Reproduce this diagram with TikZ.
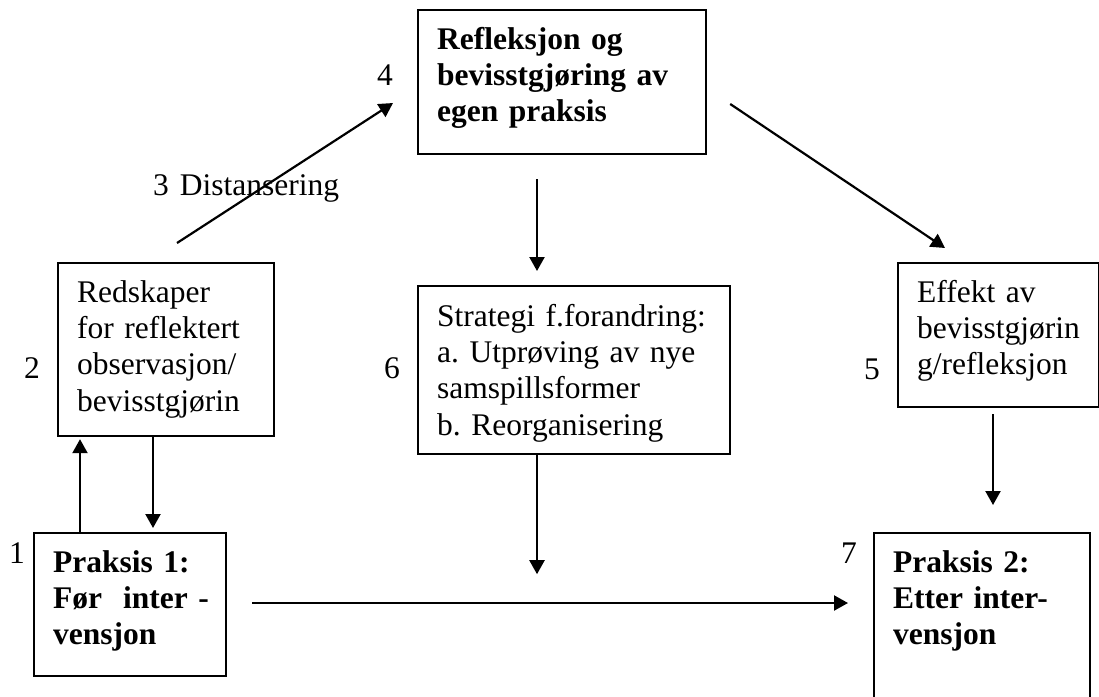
\documentclass[tikz,border=0pt]{standalone}
\usepackage{fontspec}
\setmainfont{Liberation Serif}
\frenchspacing
\usetikzlibrary{arrows.meta,calc}
\tikzset{
	box/.style={draw, line width=2.2pt, inner sep=0pt, anchor=north west},
	txt/.style={font=\fontsize{31.5}{36.4}\selectfont, align=left, inner sep=0pt, anchor=base west, text width=#1},
	txt/.default=200pt,
	txtb/.style={txt=#1, font=\fontsize{31.5}{36.4}\selectfont\bfseries},
	txtb/.default=200pt,
	arr/.style={line width=2.2pt, -{Triangle[length=14pt,width=15pt]}}
}
\begin{document}
\begin{tikzpicture}[x=1pt,y=-1pt]
\clip (0,0) rectangle (1099,696);
\node[box, minimum width=288pt, minimum height=144pt] (refleksjon) at (417,9) {};
\node[box, minimum width=216pt, minimum height=173pt] (redskaper) at (57,262) {};
\node[box, minimum width=312pt, minimum height=168pt] (strategi) at (417,285) {};
\node[box, minimum width=201pt, minimum height=144pt] (effekt) at (897,262) {};
\node[box, minimum width=192pt, minimum height=143pt] (praksis1) at (33,532) {};
\node[box, minimum width=216pt, minimum height=180pt] (praksis2) at (873,532) {};
\node[txtb=270pt] (refleksjon-t) at ($(refleksjon.north west)+(20,40)$) {Refleksjon og\\bevisstgjøring av\\egen praksis};
\node[txt] (redskaper-t) at ($(redskaper.north west)+(20,40)$) {Redskaper\\for reflektert\\observasjon/\\bevisstgjørin};
\node[txt=290pt] (strategi-t) at ($(strategi.north west)+(20,41)$) {Strategi f.forandring:\\a. Utprøving av nye\\samspillsformer\\b. Reorganisering};
\node[txt=180pt] (effekt-t) at ($(effekt.north west)+(20,40)$) {Effekt av\\bevisstgjørin\\g/refleksjon};
\node[txtb=170pt] (praksis1-t) at ($(praksis1.north west)+(20,40)$) {Praksis 1:\\Før~ inter -\\vensjon};
\node[txtb=190pt] (praksis2-t) at ($(praksis2.north west)+(20,40)$) {Praksis 2:\\Etter inter-\\vensjon};
\foreach \n/\x/\y in {1/17/563, 2/32/378, 4/385/85, 5/872/379, 6/392/378, 7/849/563}{
	\node[font=\fontsize{31.5}{36.4}\selectfont, inner sep=0pt, anchor=base] (num\n) at (\x,\y) {\n};
}
\node[font=\fontsize{31.5}{36.4}\selectfont, inner sep=0pt, anchor=base west] (distansering) at (153,195) {3\hspace{11pt}Distansering};
\draw[arr] ($(redskaper.north west)+(120,-19)$) -- ($(refleksjon.north west)+(-24,94)$);
\draw[arr] ($(refleksjon.north east)+(23,95)$) -- ($(effekt.north west)+(48,-14)$);
\draw[arr] ($(refleksjon.south west)+(120,24)$) -- ($(strategi.north west)+(120,-14)$);
\draw[arr] ($(strategi.south west)+(120,0)$) -- ($(strategi.south west)+(120,119)$);
\draw[arr] ($(effekt.south west)+(96,6)$) -- ($(praksis2.north west)+(120,-27)$);
\draw[arr] ($(praksis1.north west)+(47,0)$) -- ($(redskaper.south west)+(23,2)$);
\draw[arr] ($(redskaper.south west)+(96,0)$) -- ($(praksis1.north west)+(120,-4)$);
\draw[arr] ($(praksis1.north east)+(25,71)$) -- ($(praksis2.north west)+(-25,71)$);
\end{tikzpicture}
\end{document}
